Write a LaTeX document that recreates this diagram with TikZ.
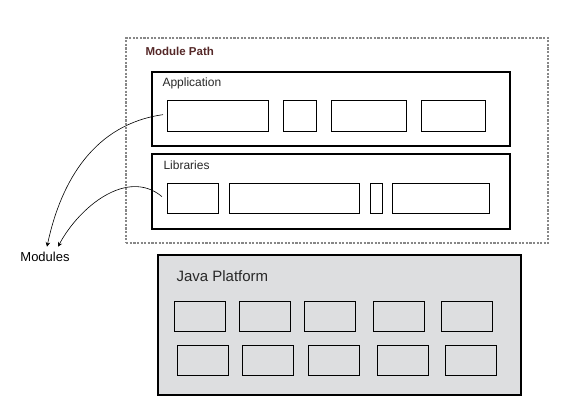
\documentclass[tikz,border=0pt]{standalone}
\usepackage{fontspec}
\setmainfont{Liberation Sans}
\usetikzlibrary{arrows.meta}
\definecolor{pathbrown}{RGB}{85,40,40}
\definecolor{platgray}{RGB}{221,222,224}
\definecolor{dotgray}{RGB}{135,135,135}
\definecolor{textgray}{RGB}{40,40,40}
\tikzset{%
  >={Stealth[width=1.6mm,length=1.6mm]},
  % Specifications for style of nodes:
       base/.style = {rectangle, draw=black, inner sep=0pt, anchor=north west},
      layer/.style = {base, line width=1.5pt},
       slot/.style = {base, line width=1.3pt, minimum height=31pt},
    platbox/.style = {base, line width=1.3pt, fill=platgray,
                      minimum width=51pt, minimum height=30pt},
      label/.style = {anchor=west, text=textgray, font=\fontsize{12}{14}\selectfont},
}
\begin{document}
\begin{tikzpicture}[x=1pt,y=-1pt]
  \useasboundingbox (0,0) rectangle (566,408);
  % Module path with its two layers
  \node (path) [base, draw=dotgray, line width=2.2pt, dash pattern=on 2.2pt off 1.4pt,
    minimum width=422pt, minimum height=205pt] at (125,37) {};
  \node (pathlbl) [label, font=\bfseries\fontsize{11.5}{13}\selectfont, text=pathbrown] at (142,51) {Module Path};
  \node (app) [layer, minimum width=358pt, minimum height=74pt] at (151,71) {};
  \node (applbl) [label] at (159,83) {Application};
  \node (a1) [slot, minimum width=101pt] at (167,100) {};
  \node (a2) [slot, minimum width=33pt]  at (283,100) {};
  \node (a3) [slot, minimum width=75pt]  at (331,100) {};
  \node (a4) [slot, minimum width=64pt]  at (421,100) {};
  \node (lib) [layer, minimum width=358pt, minimum height=75pt] at (151,153) {};
  \node (liblbl) [label] at (160,165) {Libraries};
  \node (l1) [slot, minimum width=51pt, minimum height=30pt]  at (167,183) {};
  \node (l2) [slot, minimum width=130pt, minimum height=30pt] at (229,183) {};
  \node (l3) [slot, minimum width=12pt, minimum height=30pt]  at (370,183) {};
  \node (l4) [slot, minimum width=97pt, minimum height=30pt]  at (392,183) {};
  % Java platform
  \node (jdk) [layer, fill=platgray, minimum width=363pt, minimum height=140pt] at (157,254) {};
  \node (jdklbl) [label, font=\fontsize{15}{17}\selectfont] at (173,276) {Java Platform};
  \foreach \x [count=\i] in {174,239,304,373,441}
    \node (p\i) [platbox] at (\x,301) {};
  \foreach \x [count=\i] in {177,242,308,377,445}
    \node (q\i) [platbox] at (\x,345) {};
  % Modules and the arrows to it
  \node (mods) [font=\fontsize{13}{15}\selectfont] at (45,257) {Modules};
  \draw[->, line width=0.6pt] (a1.west) ++(-4,-1.5) to[out=188,in=78] ([xshift=2pt,yshift=2pt]mods.north);
  \draw[->, line width=0.6pt] (l1.west) ++(-5,-2) to[out=140,in=62] ([xshift=13pt,yshift=2pt]mods.north);
\end{tikzpicture}
\end{document}
